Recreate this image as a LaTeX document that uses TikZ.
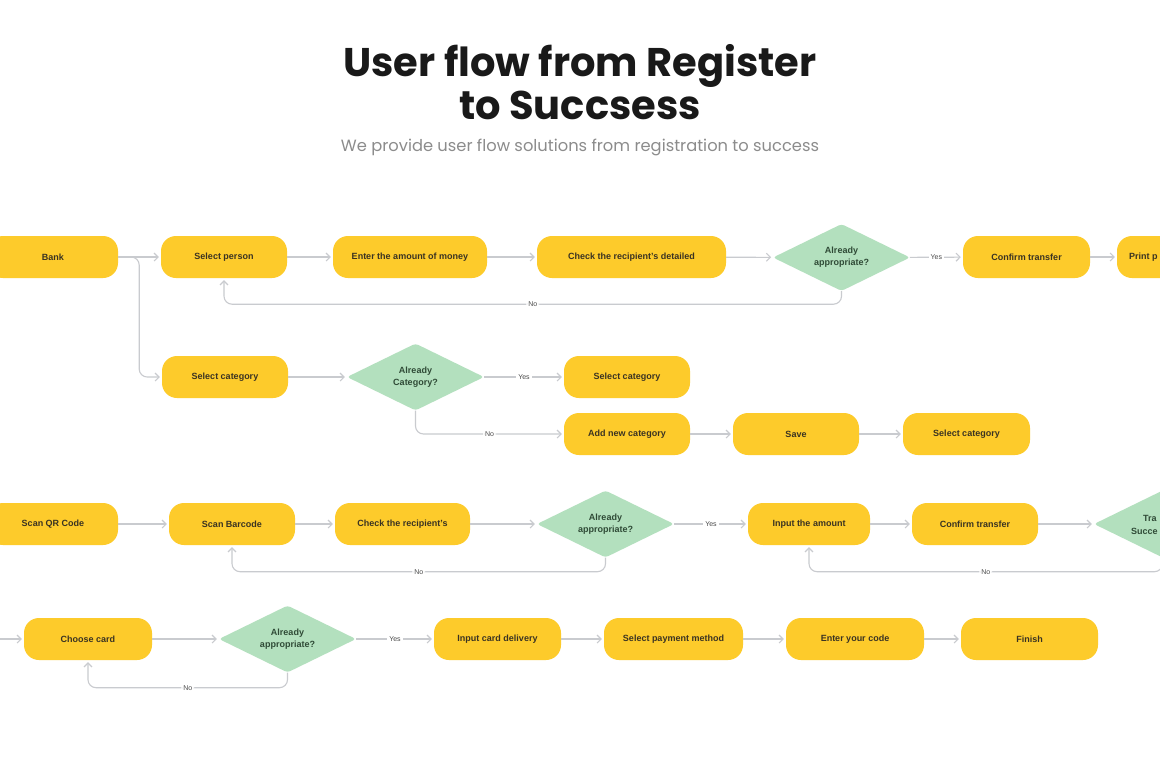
\documentclass[tikz,border=0pt]{standalone}
\usepackage{fontspec}
\setmainfont{Liberation Sans}
\newfontfamily\titlefont{Poppins}
\usetikzlibrary{shapes.geometric,arrows.meta,calc}
\definecolor{boxyellow}{HTML}{FDCB2B}
\definecolor{diagreen}{HTML}{B3E0BE}
\definecolor{boxtext}{HTML}{3A3322}
\definecolor{diatext}{HTML}{2F4A36}
\definecolor{conncol}{HTML}{C9CBCF}
\definecolor{labcol}{HTML}{4A4A4A}
\definecolor{subcol}{HTML}{8C8C8C}
\tikzset{
  stepbox/.style={rectangle, rounded corners=15, fill=boxyellow, draw=none,
    minimum height=42, text=boxtext, font=\fontsize{9}{11}\selectfont\bfseries, inner sep=0pt},
  decision/.style={diamond, aspect=2, fill=diagreen, draw=none, rounded corners=3,
    minimum width=137, minimum height=67, inner sep=0pt, text=diatext,
    font=\fontsize{9}{12}\selectfont\bfseries, align=center},
  conn/.style={draw=conncol, line width=1.1, -{Straight Barb[length=4,width=8]}, shorten >=2},
  lab/.style={fill=white, inner sep=2, text=labcol, font=\fontsize{7}{8}\selectfont},
  cuttext/.style={anchor=west, inner sep=0pt, font=\fontsize{9}{11}\selectfont\bfseries},
}
\begin{document}
\begin{tikzpicture}[x=1pt,y=-1pt]
\useasboundingbox (0,0) rectangle (1160,774);
\fill[white] (0,0) rectangle (1160,774);
\clip (0,0) rectangle (1160,774);
% title
\node[font=\titlefont\bfseries\fontsize{40}{43}\selectfont, align=center, text=black!90] (title) at (580,82) {User flow from Register\\to Succsess};
\node[font=\titlefont\fontsize{16.3}{19}\selectfont, text=subcol] (sub) at (580,147) {We provide user flow solutions from registration to success};

% row 1
\node[stepbox, minimum width=130] (bank) at (53,257) {Bank};
\node[stepbox, minimum width=126] (selp) at (224,257) {Select person};
\node[stepbox, minimum width=154] (amount) at (410,257) {Enter the amount of money};
\node[stepbox, minimum width=189] (check1) at (631.5,257) {Check the recipient's detailed};
\node[decision] (d1) at (841.5,257.5) {Already\\appropriate?};
\node[stepbox, minimum width=127] (conf1) at (1026.5,257) {Confirm transfer};
\node[stepbox, minimum width=127] (print) at (1180.5,257) {};
\node[cuttext, text=boxtext] (printtxt) at (1129,257.5) {Print p};

\draw[conn] (bank) -- (selp);
\draw[conn] (selp) -- (amount);
\draw[conn] (amount) -- (check1);
\draw[conn] (check1) -- (d1);
\draw[conn] (d1) -- node[lab]{Yes} (conf1);
\draw[conn] (conf1) -- (print);
\draw[conn, rounded corners=8] (d1.south) -- ++(0,13) -| node[lab, pos=0.25]{No} (selp.south);

% row 2
\node[stepbox, minimum width=126] (selcat1) at (225,377) {Select category};
\node[decision] (d2) at (415.5,377) {Already\\Category?};
\node[stepbox, minimum width=126] (selcat2) at (627,377) {Select category};
\node[stepbox, minimum width=126] (addnew) at (627,434) {Add new category};
\node[stepbox, minimum width=126] (save) at (796,434) {Save};
\node[stepbox, minimum width=127] (selcat3) at (966.5,434) {Select category};

\draw[conn, rounded corners=8] (bank.east) -- ++(21,0) |- (selcat1.west);
\draw[conn] (selcat1) -- (d2);
\draw[conn] (d2) -- node[lab]{Yes} (selcat2);
\draw[conn, rounded corners=8] (d2.south) |- node[lab, pos=0.75]{No} (addnew.west);
\draw[conn] (addnew) -- (save);
\draw[conn] (save) -- (selcat3);

% row 3
\node[stepbox, minimum width=130] (qr) at (53,524) {Scan QR Code};
\node[stepbox, minimum width=126] (bar) at (232,524) {Scan Barcode};
\node[stepbox, minimum width=135] (check2) at (402.5,524) {Check the recipient's};
\node[decision] (d3) at (605.5,524) {Already\\appropriate?};
\node[stepbox, minimum width=122] (inamt) at (809,524) {Input the amount};
\node[stepbox, minimum width=126] (conf2) at (975,524) {Confirm transfer};
\node[decision] (d4) at (1162.5,524) {};
\node[cuttext, text=diatext] (d4a) at (1143,518) {Tra};
\node[cuttext, text=diatext] (d4b) at (1131,531) {Succe};

\draw[conn] (qr) -- (bar);
\draw[conn] (bar) -- (check2);
\draw[conn] (check2) -- (d3);
\draw[conn] (d3) -- node[lab]{Yes} (inamt);
\draw[conn] (inamt) -- (conf2);
\draw[conn] (conf2) -- (d4);
\draw[conn, rounded corners=8] (d3.south) -- ++(0,14) -| node[lab, pos=0.25]{No} (bar.south);
\draw[conn, rounded corners=8] (d4.south) -- ++(0,14) -| node[lab, pos=0.25]{No} (inamt.south);

% row 4
\coordinate (in4) at (-2,639);
\node[stepbox, minimum width=128] (card) at (88,639) {Choose card};
\node[decision] (d5) at (287.5,639) {Already\\appropriate?};
\node[stepbox, minimum width=127] (deliv) at (497.5,639) {Input card delivery};
\node[stepbox, minimum width=139] (pay) at (673.5,639) {Select payment method};
\node[stepbox, minimum width=138] (code) at (855,639) {Enter your code};
\node[stepbox, minimum width=137] (fin) at (1029.5,639) {Finish};

\draw[conn] (in4) -- (card);
\draw[conn] (card) -- (d5);
\draw[conn] (d5) -- node[lab]{Yes} (deliv);
\draw[conn] (deliv) -- (pay);
\draw[conn] (pay) -- (code);
\draw[conn] (code) -- (fin);
\draw[conn, rounded corners=8] (d5.south) -- ++(0,15) -| node[lab, pos=0.25]{No} (card.south);
\end{tikzpicture}
\end{document}
